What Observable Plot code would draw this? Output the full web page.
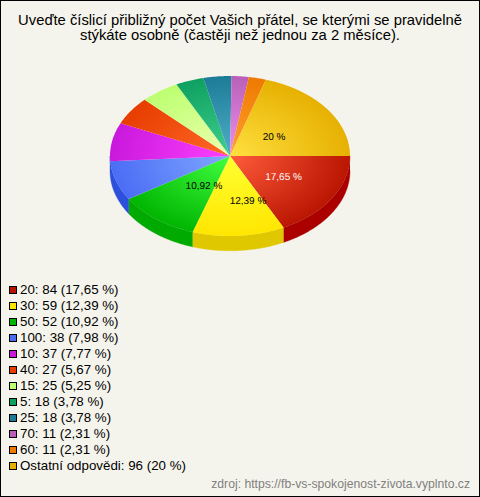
<!DOCTYPE html>
<html><head><meta charset="utf-8">
<script src="https://cdn.jsdelivr.net/npm/d3@7"></script>
<script src="https://cdn.jsdelivr.net/npm/@observablehq/plot@0.6"></script>
<style>
html,body{margin:0;padding:0;background:#f5f4ec}
#page{box-sizing:border-box;position:relative;width:480px;height:497px;border:1px solid #000;background:#f5f4ec;font-family:"Liberation Sans",Arial,sans-serif;color:#000;overflow:hidden}
#title{position:absolute;left:0;top:12px;width:478px;text-align:center;font-size:14.8px;line-height:15px}
#chart{position:absolute;left:-1px;top:-1px;width:480px}
#legend{position:absolute;left:8px;top:281px;font-size:13.33px;line-height:16px}
#legend div{height:16px;white-space:nowrap;display:flex;align-items:center}
#legend i{display:inline-block;box-sizing:border-box;width:8px;height:8px;border:1px solid #000;margin-right:3px}
#src{position:absolute;right:9px;top:476px;font-size:12.2px;color:#808080}
</style></head><body>
<div id="page">
<div id="chart"></div>
<div id="title">Uveďte číslicí přibližný počet Vašich přátel, se kterými se pravidelně<br>stýkáte osobně (častěji než jednou za 2 měsíce).</div>
<div id="legend"></div>
<div id="src">zdroj: https://fb-vs-spokojenost-zivota.vyplnto.cz</div>
</div>
<script>
const categories = ["20","30","50","100","10","40","15","5","25","70","60","Ostatní odpovědi"];
const counts = [84,59,52,38,37,27,25,18,18,11,11,96];
const shares = ["17,65","12,39","10,92","7,98","7,77","5,67","5,25","3,78","3,78","2,31","2,31","20"];
const rimColors = ["#b81400","#ffe600","#00b400","#4a6cf5","#c818dc","#e83c00","#bcff70","#0ea060","#1c7c98","#b860b8","#ee7a00","#e6b000"];
const coreColors = ["#ff5c3c","#ffff30","#40ff40","#80a8ff","#ff40ff","#ff6a28","#eeffb0","#40d090","#50b0c8","#ee90ee","#ffa030","#ffe040"];
const sideColors = ["#aa0000","#e0c800","#00aa00","#2c50dc"];
const labelled = ["20","30","50","Ostatní odpovědi"];
const labelSpots = [[0.446,0.265],[0.15,0.565],[-0.217,0.375],[0.367,-0.24]];

const total = d3.sum(counts);
const depth = 0.185;
let run = 0;
const slices = counts.map((c,i)=>{const a0=run/total*2*Math.PI; run+=c; return {i,a0,a1:run/total*2*Math.PI};});
function arcPts(a0,a1,dy=0){const n=Math.max(2,Math.ceil((a1-a0)/0.01));return d3.range(n+1).map(k=>{const a=a0+(a1-a0)*k/n;return {x:Math.cos(a),y:Math.sin(a)+dy};});}
const topFace = s=>[{x:0,y:0},...arcPts(s.a0,s.a1),{x:0,y:0}];
const sideFace = s=>{const a1=s.i===sideColors.length-1?Math.PI:s.a1;return [...arcPts(s.a0,a1),...arcPts(s.a0,a1,depth).reverse()];};

const defs = () => {
  const d = d3.create("svg:defs");
  slices.forEach(s=>{
    const g = d.append("radialGradient").attr("id","sl"+s.i).attr("gradientUnits","userSpaceOnUse")
      .attr("cx",230).attr("cy",156).attr("r",1).attr("gradientTransform","translate(230 156) scale(122 81) translate(-230 -156)");
    g.append("stop").attr("offset","0").attr("stop-color",coreColors[s.i]);
    g.append("stop").attr("offset","1").attr("stop-color",rimColors[s.i]);
  });
  return d.node();
};

const sideMarks = slices.filter(s=>s.i<sideColors.length).map(s=>Plot.line(sideFace(s),{x:"x",y:"y",fill:sideColors[s.i],stroke:sideColors[s.i],strokeWidth:0.4,curve:"linear"}));
const topMarks = slices.map(s=>Plot.line(topFace(s),{x:"x",y:"y",fill:`url(#sl${s.i})`,stroke:"none",curve:"linear"}));
const labels = labelled.map((name,k)=>{
  const i = categories.indexOf(name);
  return Plot.text([{x:labelSpots[k][0],y:labelSpots[k][1],t:shares[i]+" %"}],{x:"x",y:"y",text:"t",fill:i===0?"#fff":"#000",fontSize:10,fontFamily:'"Liberation Sans",Arial,sans-serif'});
});

const chart = Plot.plot({
  width:480,height:270,margin:0,
  style:{background:"transparent",overflow:"visible",textRendering:"geometricPrecision"},
  x:{domain:[-1,1],range:[109.5,349.5],axis:null},
  y:{domain:[-1,1],range:[75.5,235.5],axis:null},
  marks:[defs,...sideMarks,...topMarks,...labels]
});
document.getElementById("chart").appendChild(chart);

const legend = d3.select("#legend");
categories.forEach((c,i)=>{
  const row = legend.append("div");
  row.append("i").style("background",rimColors[i]);
  row.append("span").text(`${c}: ${counts[i]} (${shares[i]} %)`);
});
</script>
</body></html>
